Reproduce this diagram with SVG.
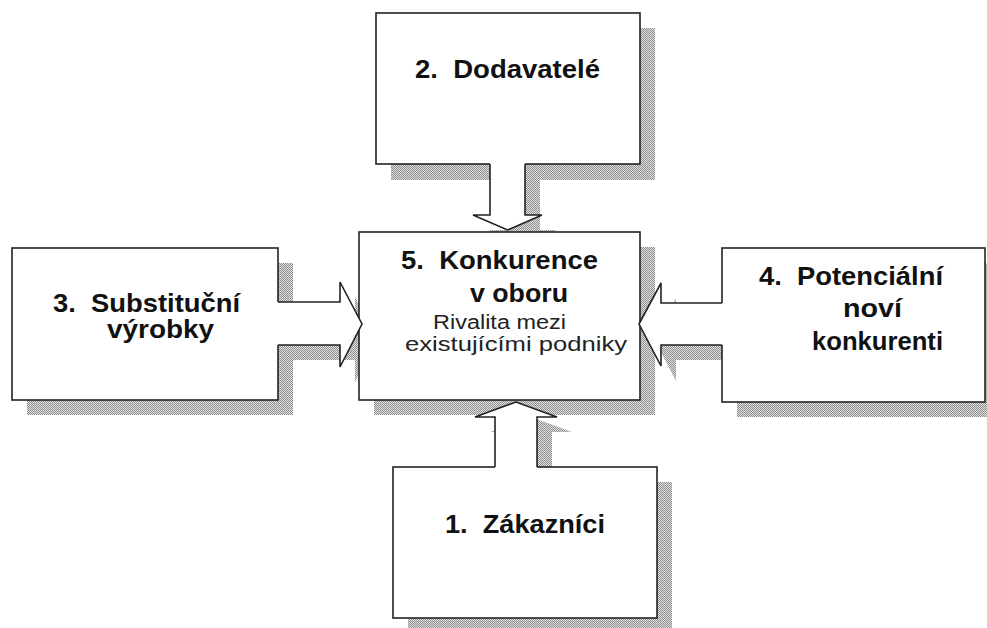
<svg xmlns="http://www.w3.org/2000/svg" width="987" height="628" viewBox="0 0 987 628">
<defs>
<pattern id="dith" width="2" height="2" patternUnits="userSpaceOnUse">
<rect width="2" height="2" fill="#e0e0e0"/>
<rect x="0" y="0" width="1" height="1" fill="#8e8e8e"/>
<rect x="1" y="1" width="1" height="1" fill="#8e8e8e"/>
</pattern>
</defs>
<style>
.sh{fill:url(#dith);stroke:none}
.box{fill:#fff;stroke:#222;stroke-width:1.6}
.af{fill:#fff;stroke:none}
.as{fill:none;stroke:#222;stroke-width:1.6;stroke-linejoin:miter}
.b{font-family:"Liberation Sans",Arial,sans-serif;font-weight:bold;font-size:25px;fill:#111;white-space:pre}
.r{font-family:"Liberation Sans",Arial,sans-serif;font-size:20px;fill:#222}
</style>
<g id="shadows">
<rect class="sh" x="391" y="28" width="264" height="152"/>
<rect class="sh" x="374" y="247" width="281" height="168"/>
<rect class="sh" x="27" y="263" width="266" height="152"/>
<rect class="sh" x="737" y="263" width="263" height="154"/>
<rect class="sh" x="408" y="482" width="264" height="151"/>
<polygon class="sh" points="505,179 540,179 540,230 557,230 522.5,245 488,230 505,230"/>
<polygon class="sh" points="293,317 355,317 355,297 377,339 355,382 355,360 293,360"/>
<polygon class="sh" points="737,318 676,318 676,298 654,339 676,381 676,360 737,360"/>
<polygon class="sh" points="510,482 510,432 490,432 531,417 572,432 552,432 552,482"/>
</g>
<g id="n2"><rect class="box" x="376" y="13" width="264" height="151"/>
<text class="b" x="415" y="78" textLength="185" lengthAdjust="spacingAndGlyphs">2.  Dodavatelé</text></g>
<g id="n5"><rect class="box" x="359" y="232" width="281" height="168"/>
<text class="b" x="401" y="269" textLength="197" lengthAdjust="spacingAndGlyphs">5.  Konkurence</text>
<text class="b" x="470" y="302" textLength="98" lengthAdjust="spacingAndGlyphs">v oboru</text>
<text class="r" x="433" y="329" textLength="133" lengthAdjust="spacingAndGlyphs">Rivalita mezi</text>
<text class="r" x="405" y="351" textLength="222" lengthAdjust="spacingAndGlyphs">existujícími podniky</text></g>
<g id="n3"><rect class="box" x="12" y="248" width="266" height="152"/>
<text class="b" x="53" y="312" textLength="187" lengthAdjust="spacingAndGlyphs">3.  Substituční</text>
<text class="b" x="107" y="338" textLength="107" lengthAdjust="spacingAndGlyphs">výrobky</text></g>
<g id="n4"><rect class="box" x="722" y="248" width="263" height="154"/>
<text class="b" x="759" y="285" textLength="184" lengthAdjust="spacingAndGlyphs">4.  Potenciální</text>
<text class="b" x="843" y="317" textLength="59" lengthAdjust="spacingAndGlyphs">noví</text>
<text class="b" x="812" y="350" textLength="131" lengthAdjust="spacingAndGlyphs">konkurenti</text></g>
<g id="n1"><rect class="box" x="393" y="467" width="264" height="151"/>
<text class="b" x="445" y="533" textLength="160" lengthAdjust="spacingAndGlyphs">1.  Zákazníci</text></g>
<g id="connectors">
<polygon class="af" points="490,163 525,163 525,215 542,215 507.5,230 473,215 490,215"/>
<polyline class="as" points="490,164 490,215 473,215 507.5,230 542,215 525,215 525,164"/>
<polygon class="af" points="277,302 340,302 340,282 362,324 340,367 340,345 277,345"/>
<polyline class="as" points="278,302 340,302 340,282 362,324 340,367 340,345 278,345"/>
<polygon class="af" points="723,303 661,303 661,283 639,324 661,366 661,345 723,345"/>
<polyline class="as" points="722,303 661,303 661,283 639,324 661,366 661,345 722,345"/>
<polygon class="af" points="495,468 495,417 475,417 516,402 557,417 537,417 537,468"/>
<polyline class="as" points="495,467 495,417 475,417 516,402 557,417 537,417 537,467"/>
</g>
</svg>
